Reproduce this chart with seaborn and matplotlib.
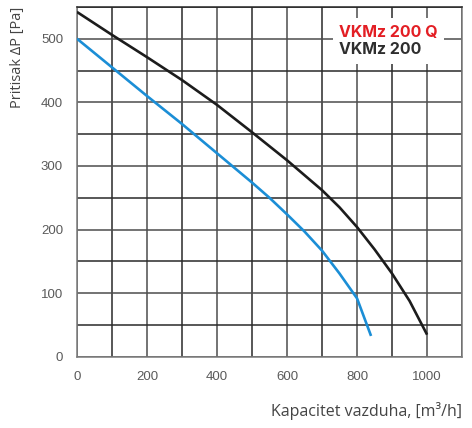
import numpy as np
import pandas as pd
import seaborn as sns
import matplotlib.pyplot as plt
from matplotlib.ticker import MultipleLocator

# curve readings, airflow [m3/h] vs pressure [Pa]
flow_std = [0, 100, 200, 300, 400, 500, 600, 700, 750, 800, 850, 900, 950, 1000]
press_std = [542, 506, 471, 435, 396, 353, 309, 262, 235, 204, 169, 131, 88, 35]

flow_q = [0, 100, 200, 300, 400, 500, 550, 600, 650, 700, 750, 800, 840]
press_q = [500, 455, 410, 366, 320, 274, 250, 224, 197, 167, 131, 92, 33]

series_names = ["VKMz 200 Q", "VKMz 200"]
series_colors = ["#e31e24", "#2e2e2e"]
line_colors = ["#1b8ed6", "#1c1c1c"]

df = pd.concat([
    pd.DataFrame({"flow": flow_q, "pressure": press_q, "model": series_names[0]}),
    pd.DataFrame({"flow": flow_std, "pressure": press_std, "model": series_names[1]}),
])

sns.set_style("white")
plt.rcParams["font.family"] = ["Liberation Sans", "DejaVu Sans"]

fig = plt.figure(figsize=(4.72, 4.28), dpi=100)
ax = fig.add_axes([0.163, 0.166, 0.816, 0.818])

ax.set_xlim(0, 1100)
ax.set_ylim(0, 550)
ax.xaxis.set_major_locator(MultipleLocator(200))
ax.xaxis.set_minor_locator(MultipleLocator(100))
ax.yaxis.set_major_locator(MultipleLocator(100))
ax.yaxis.set_minor_locator(MultipleLocator(50))
ax.grid(which="major", color="#4d4d4d", lw=1.1)
ax.grid(which="minor", color="#2a2a2a", lw=1.1)
ax.set_axisbelow(True)

sns.lineplot(data=df, x="flow", y="pressure", hue="model",
             palette=dict(zip(series_names, line_colors)),
             lw=1.9, sort=False, legend=False, ax=ax, zorder=3)
for ln in ax.get_lines():
    ln.set_solid_joinstyle("round")
    ln.set_solid_capstyle("butt")

for side in ["left", "bottom", "right"]:
    ax.spines[side].set_color("#7a7a7a")
    ax.spines[side].set_linewidth(1.1)
ax.spines["top"].set_color("#262626")
ax.spines["top"].set_linewidth(1.1)

ax.tick_params(axis="both", which="major", length=4, width=1, color="#7a7a7a",
               labelsize=9.5, labelcolor="#5a5a5a", pad=6)
ax.tick_params(axis="both", which="minor", length=0)

ax.set_xlabel("Kapacitet vazduha, [m³/h]", fontsize=11.5, color="#444444",
              family=["Open Sans", "DejaVu Sans"])
ax.xaxis.set_label_coords(1.0, -0.13)
ax.xaxis.label.set_horizontalalignment("right")
ax.set_ylabel("Pritisak ΔP [Pa]", fontsize=10.5, color="#444444",
              family=["Open Sans", "DejaVu Sans"])
ax.yaxis.set_label_coords(-0.175, 1.0)
ax.yaxis.label.set_verticalalignment("top")
ax.yaxis.label.set_horizontalalignment("right")

handles = [plt.Line2D([], [], lw=0) for _ in series_names]
leg = ax.legend(handles, series_names, loc="upper right", bbox_to_anchor=(0.975, 0.99),
                handlelength=0, handletextpad=0, frameon=True, fancybox=False,
                framealpha=1, facecolor="white", edgecolor="none",
                borderpad=0.4, labelspacing=0.15,
                prop={"family": ["Inter", "DejaVu Sans"], "weight": "bold", "size": 11.5})
for txt, c in zip(leg.get_texts(), series_colors):
    txt.set_color(c)

fig.savefig("out.png", dpi=100)
